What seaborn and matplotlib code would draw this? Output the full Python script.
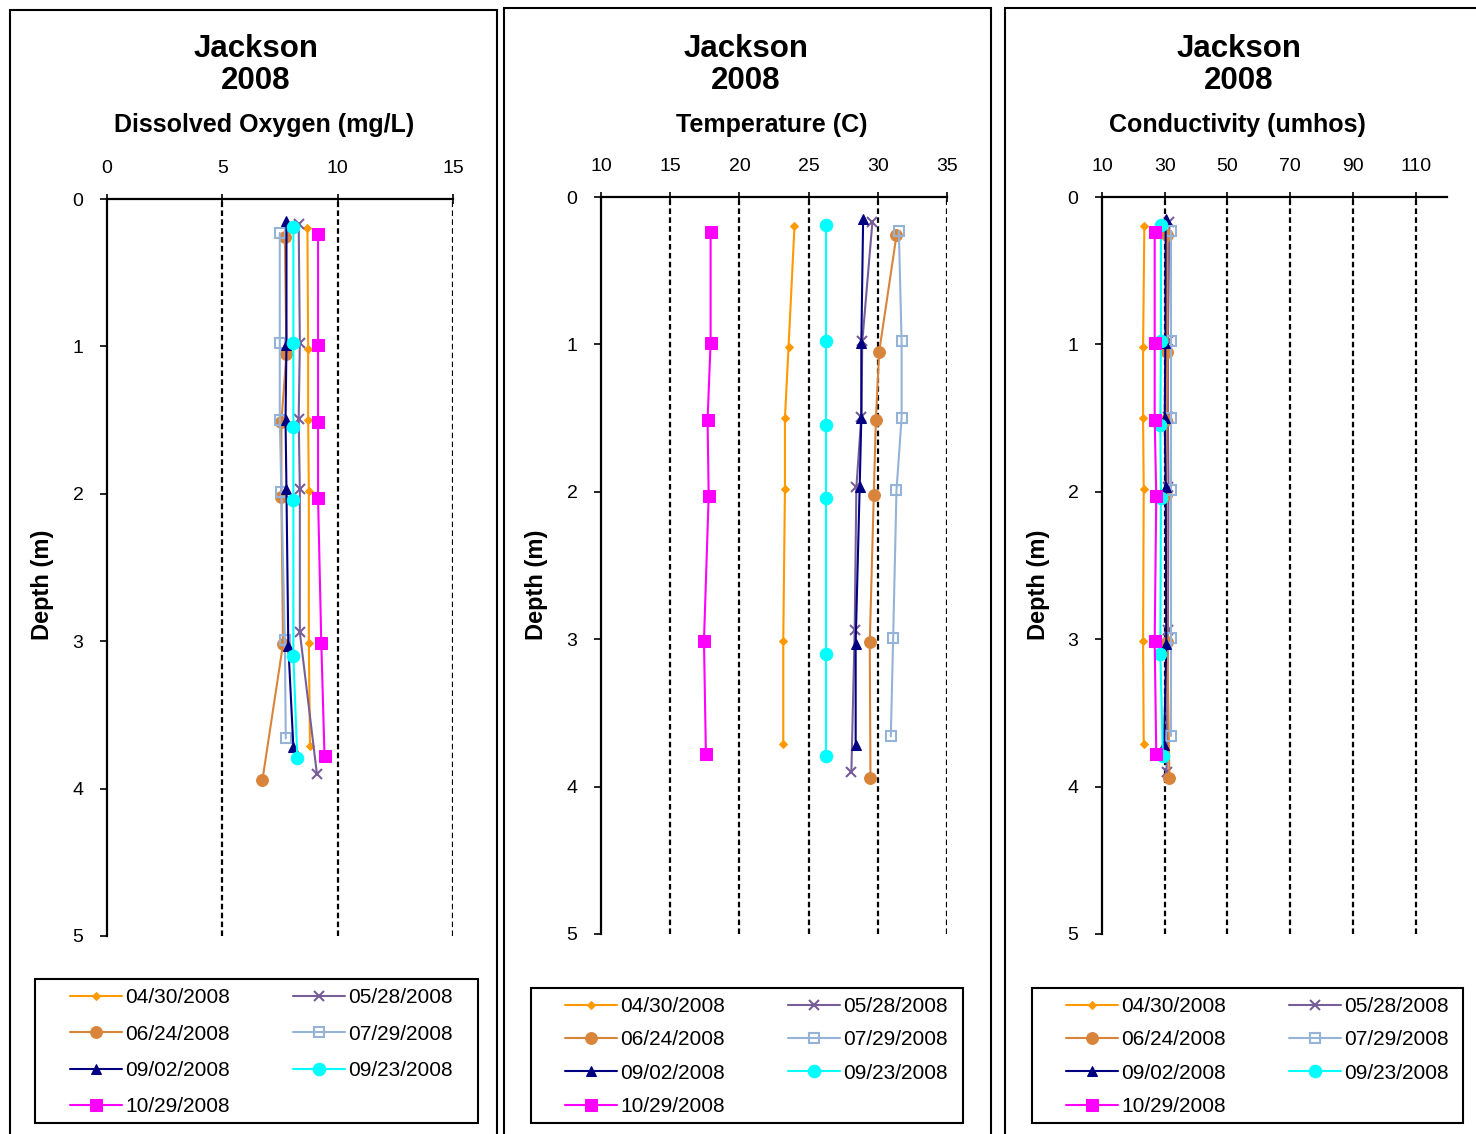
import matplotlib
matplotlib.use('Agg')
import matplotlib.pyplot as plt
from matplotlib.patches import Rectangle
import seaborn as sns

sns.set_style('white')
plt.rcParams['font.family'] = ['Liberation Sans', 'DejaVu Sans']
plt.rcParams['text.color'] = 'black'
plt.rcParams['xtick.color'] = 'black'
plt.rcParams['ytick.color'] = 'black'
plt.rcParams['axes.labelcolor'] = 'black'

# sampling dates and profile depths (m)
dates = ['04/30/2008', '05/28/2008', '06/24/2008', '07/29/2008',
         '09/02/2008', '09/23/2008', '10/29/2008']
depths = [
    [0.20, 1.02, 1.50, 1.98, 3.01, 3.71],
    [0.17, 0.98, 1.49, 1.97, 2.94, 3.90],
    [0.26, 1.05, 1.51, 2.02, 3.02, 3.94],
    [0.23, 0.98, 1.50, 1.99, 2.99, 3.66],
    [0.15, 0.99, 1.50, 1.97, 3.03, 3.72],
    [0.19, 0.98, 1.55, 2.04, 3.10, 3.79],
    [0.24, 0.99, 1.51, 2.03, 3.01, 3.78],
]

# dissolved oxygen (mg/L)
do_vals = [
    [8.69, 8.72, 8.72, 8.75, 8.75, 8.80],
    [8.31, 8.36, 8.31, 8.36, 8.36, 9.10],
    [7.71, 7.78, 7.56, 7.56, 7.63, 6.74],
    [7.49, 7.49, 7.49, 7.56, 7.71, 7.75],
    [7.78, 7.78, 7.74, 7.78, 7.86, 8.08],
    [8.08, 8.08, 8.08, 8.08, 8.08, 8.25],
    [9.15, 9.15, 9.15, 9.15, 9.29, 9.43],
]

# temperature (C)
temp_vals = [
    [23.98, 23.55, 23.29, 23.29, 23.17, 23.17],
    [29.61, 28.88, 28.81, 28.45, 28.33, 28.09],
    [31.35, 30.10, 29.86, 29.71, 29.42, 29.47],
    [31.52, 31.72, 31.72, 31.35, 31.11, 30.94],
    [28.94, 28.81, 28.81, 28.69, 28.40, 28.40],
    [26.25, 26.25, 26.25, 26.25, 26.25, 26.25],
    [17.92, 17.92, 17.70, 17.78, 17.44, 17.58],
]

# conductivity (umhos)
cond_vals = [
    [23.5, 23.1, 23.1, 23.3, 23.1, 23.3],
    [31.5, 31.0, 31.0, 31.2, 31.0, 30.6],
    [30.8, 30.8, 30.5, 30.5, 30.8, 31.5],
    [32.0, 32.0, 32.0, 32.0, 32.0, 32.0],
    [30.3, 30.2, 30.0, 30.3, 30.5, 29.8],
    [28.8, 28.8, 28.6, 28.8, 28.6, 29.4],
    [26.8, 26.8, 26.8, 27.3, 26.8, 27.3],
]

colors = ['#FF9900', '#775E99', '#D9843B', '#95B3D7', '#000080', '#00FFFF', '#FF00FF']
markers = ['D', 'x', 'o', 's', '^', 'o', 's']
msizes = [4.5, 7, 8.5, 7.5, 7.5, 9, 8]

W, H = 1476, 1134
fig = plt.figure(figsize=(W / 100, H / 100), dpi=100)

panels = [
    dict(vals=do_vals, sub='Dissolved Oxygen (mg/L)', xlim=(0, 15), xticks=[0, 5, 10, 15],
         ax=(107, 199, 453, 936), box=(10, 10, 497, 1140), cx=256, scx=264, ylab=42,
         legbox=(35, 979, 478, 1123), leg=(70, 988), lsp=0.84),
    dict(vals=temp_vals, sub='Temperature (C)', xlim=(10, 35), xticks=[10, 15, 20, 25, 30, 35],
         ax=(601, 197, 947, 934), box=(504, 8, 991, 1140), cx=746, scx=772, ylab=537,
         legbox=(531, 988, 963, 1123), leg=(565, 997), lsp=0.69),
    dict(vals=cond_vals, sub='Conductivity (umhos)', xlim=(10, 120), xticks=[10, 30, 50, 70, 90, 110],
         ax=(1102, 197, 1447, 934), box=(1005, 8, 1490, 1140), cx=1239, scx=1237, ylab=1038,
         legbox=(1032, 988, 1463, 1123), leg=(1066, 997), lsp=0.69),
]

for p in panels:
    l, t, r, b = p['ax']
    ax = fig.add_axes([l / W, 1 - b / H, (r - l) / W, (b - t) / H])
    for i, d in enumerate(dates):
        kw = dict(marker=markers[i], markersize=msizes[i], color=colors[i],
                  markeredgecolor=colors[i], linewidth=1.5)
        if i == 3:
            kw['markerfacecolor'] = 'none'
            kw['markeredgewidth'] = 1.5
        if i == 1:
            kw['markeredgewidth'] = 1.5
        sns.lineplot(x=p['vals'][i], y=depths[i], sort=False, estimator=None,
                     label=d, ax=ax, **kw)
    ax.set_xlim(*p['xlim'])
    ax.set_ylim(5, 0)
    ax.set_xticks(p['xticks'])
    ax.set_yticks([0, 1, 2, 3, 4, 5])
    ax.xaxis.tick_top()
    ax.tick_params(axis='x', top=True, direction='inout', length=7, width=1.2,
                   pad=12, labelsize=14)
    ax.tick_params(axis='y', left=True, direction='out', length=5, width=1.2,
                   pad=12, labelsize=14)
    for xv in p['xticks'][1:]:
        ax.axvline(xv, color='black', linestyle=(0, (2.5, 1.5)), linewidth=1.6, zorder=0)
    for s in ['right', 'bottom']:
        ax.spines[s].set_visible(False)
    for s in ['top', 'left']:
        ax.spines[s].set_linewidth(1.6)
        ax.spines[s].set_color('black')
    ax.set_xlabel('')
    ax.set_ylabel('')

    # legend: two columns, filled row-wise like the original
    handles, labels = ax.get_legend_handles_labels()
    order = [0, 2, 4, 6, 1, 3, 5]
    lx, ly = p['leg']
    ax.legend([handles[k] for k in order], [labels[k] for k in order],
              ncol=2, loc='upper left', fontsize=15,
              bbox_to_anchor=(lx / W, 1 - ly / H), bbox_transform=fig.transFigure,
              frameon=False, borderpad=0, borderaxespad=0,
              handlelength=2.5, handletextpad=0.15,
              columnspacing=3.0, labelspacing=p['lsp'])
    bl, bt, br, bb = p['legbox']
    fig.patches.append(Rectangle((bl / W, 1 - bb / H), (br - bl) / W, (bb - bt) / H,
                                 transform=fig.transFigure, fill=False,
                                 edgecolor='black', linewidth=1.5))

    # titles and axis labels
    cx = p['cx'] / W
    fig.text(cx, 1 - 49 / H, 'Jackson', ha='center', va='center',
             fontsize=22.5, fontweight='bold')
    fig.text(cx, 1 - 81 / H, '2008', ha='center', va='center',
             fontsize=22.5, fontweight='bold')
    fig.text(p['scx'] / W, 1 - 125 / H, p['sub'], ha='center', va='center',
             fontsize=18, fontweight='bold')
    fig.text(p['ylab'] / W, 1 - 585 / H, 'Depth (m)', ha='center', va='center',
             rotation=90, fontsize=17, fontweight='bold')

    bl, bt, br, bb = p['box']
    fig.patches.append(Rectangle((bl / W, 1 - bb / H), (br - bl) / W, (bb - bt) / H,
                                 transform=fig.transFigure, fill=False,
                                 edgecolor='black', linewidth=1.5))

fig.savefig('out.png', dpi=100)
